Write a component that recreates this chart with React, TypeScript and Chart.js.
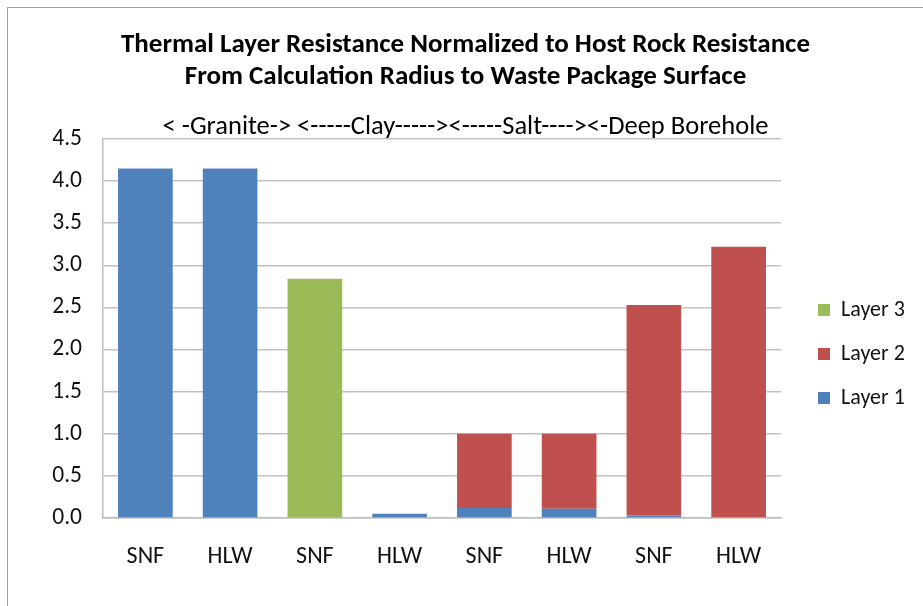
import React, { useEffect, useRef } from "react";
import { Chart, registerables } from "chart.js";

Chart.register(...registerables);

const categories = ["SNF", "HLW", "SNF", "HLW", "SNF", "HLW", "SNF", "HLW"];
const layer1 = [4.15, 4.15, 0, 0.05, 0.12, 0.11, 0.03, 0.01];
const layer2 = [0, 0, 0, 0, 0.88, 0.89, 2.5, 3.21];
const layer3 = [0, 0, 2.84, 0, 0, 0, 0, 0];
const yMin = 0;
const yMax = 4.5;
const yStep = 0.5;
const titleLines = [
  "Thermal Layer Resistance Normalized to Host Rock Resistance",
  "From Calculation Radius to Waste Package Surface",
];
const subtitleText = "< -Granite-> <-----Clay-----><-----Salt----><-Deep Borehole";
const seriesNames = ["Layer 1", "Layer 2", "Layer 3"];
const seriesColors = ["#4F81BD", "#C0504D", "#9BBB59"];

const FONT = "Carlito, Lato, 'Open Sans', sans-serif";
const CW = 915;
const CH = 598;

export default function App() {
  const ref = useRef<HTMLCanvasElement | null>(null);
  useEffect(() => {
    const canvas = ref.current;
    if (!canvas) return;
    const values = [layer1, layer2, layer3];
    const chart = new Chart(canvas, {
      type: "bar",
      data: {
        labels: categories,
        datasets: seriesNames.map((name, i) => ({
          label: name,
          data: values[i],
          backgroundColor: seriesColors[i],
          borderWidth: 0,
          barPercentage: 0.645,
          categoryPercentage: 1,
        })),
      },
      options: {
        responsive: false,
        animation: false,
        layout: { padding: 0 },
        scales: {
          x: {
            stacked: true,
            grid: { display: false, drawTicks: false },
            border: { display: true, color: "#bdbdbd", width: 1.5 },
            ticks: {
              color: "#111",
              font: { family: FONT, size: 24 },
              padding: 25,
              maxRotation: 0,
            },
            afterFit: (s: any) => {
              s.height = CH - 510;
            },
          },
          y: {
            stacked: true,
            min: yMin,
            max: yMax,
            grid: { color: "#c2c2c2", lineWidth: 1.5, drawTicks: false },
            border: { display: true, color: "#bdbdbd", width: 1.5 },
            ticks: {
              stepSize: yStep,
              color: "#111",
              font: { family: FONT, size: 23.5 },
              padding: 21,
              callback: (v: any) => Number(v).toFixed(1),
            },
            afterFit: (s: any) => {
              s.width = 95;
            },
          },
        },
        plugins: {
          title: {
            display: true,
            text: titleLines,
            color: "#000",
            font: { family: FONT, size: 27, weight: "bold", lineHeight: "32px" },
            padding: { top: 21, bottom: 0 },
          },
          subtitle: {
            display: true,
            text: subtitleText,
            color: "#000",
            font: { family: FONT, size: 26.5, lineHeight: "22px" },
            padding: { top: 23, bottom: 1 },
            align: "center",
          },
          legend: {
            position: "right",
            reverse: true,
            labels: {
              color: "#111",
              font: { family: FONT, size: 22 },
              boxWidth: 12,
              boxHeight: 12,
              padding: 22,
            },
          },
          tooltip: { enabled: false },
        },
      },
    });
    const lg: any = (chart as any).legend;
    if (lg) {
      const proto = Object.getPrototypeOf(lg);
      lg.fit = function () {
        proto.fit.call(this);
        this.width = CW - 773;
      };
      lg.draw = function () {
        const ctx = this.ctx;
        ctx.save();
        ctx.translate(15, 47);
        proto.draw.call(this);
        ctx.restore();
      };
      chart.update();
    }
    return () => chart.destroy();
  }, []);
  return (
    <div
      style={{
        position: "fixed",
        left: 7,
        top: 7,
        width: CW + 1,
        height: CH + 1,
        borderLeft: "1px solid #a0a0a0",
        borderTop: "1px solid #a0a0a0",
        boxSizing: "border-box",
        background: "#fff",
      }}
    >
      <canvas ref={ref} width={CW} height={CH} style={{ display: "block" }} />
    </div>
  );
}
